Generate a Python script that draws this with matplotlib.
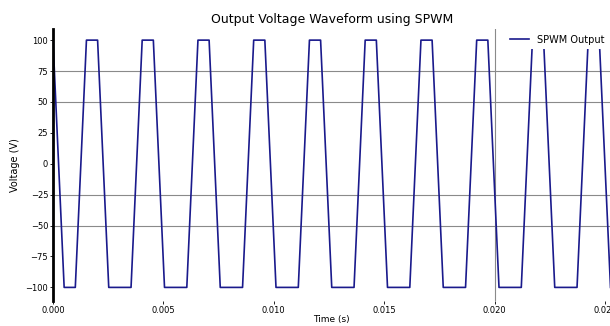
import matplotlib
matplotlib.use("Agg")
import matplotlib.pyplot as plt

# sample times (s) and output voltage (V)
time_s = [0.0, 0.000505, 0.001010, 0.001515, 0.002020, 0.002525, 0.003030, 0.003535,
          0.004040, 0.004545, 0.005051, 0.005556, 0.006061, 0.006566, 0.007071, 0.007576,
          0.008081, 0.008586, 0.009091, 0.009596, 0.010101, 0.010606, 0.011111, 0.011616,
          0.012121, 0.012626, 0.013131, 0.013636, 0.014141, 0.014646, 0.015152, 0.015657,
          0.016162, 0.016667, 0.017172, 0.017677, 0.018182, 0.018687, 0.019192, 0.019697,
          0.020202, 0.020707, 0.021212, 0.021717, 0.022222, 0.022727, 0.023232, 0.023737,
          0.024242, 0.024747, 0.025253]
voltage = [100, -100, -100, 100, 100, -100, -100, -100, 100, 100,
           -100, -100, -100, 100, 100, -100, -100, -100, 100, 100,
           -100, -100, -100, 100, 100, -100, -100, -100, 100, 100,
           -100, -100, -100, 100, 100, -100, -100, -100, 100, 100,
           -100, -100, -100, 100, 100, -100, -100, -100, 100, 100,
           -100]

x_ticks = [0.0, 0.005, 0.010, 0.015, 0.020, 0.025]
y_ticks = [-100, -75, -50, -25, 0, 25, 50, 75, 100]

fig = plt.figure(figsize=(6.1, 3.26), dpi=100)
ax = fig.add_axes([53 / 610, 25 / 326, 557.5 / 610, 272 / 326])

ax.plot(time_s, voltage, color="#1a1a8c", linewidth=1.2, label="SPWM Output")

ax.set_xlim(time_s[0], time_s[-1])
ax.set_ylim(-111, 109)
ax.set_xticks(x_ticks)
ax.set_yticks(y_ticks)
ax.tick_params(labelsize=6, length=2, width=0.6, pad=1.5)

# only part of the grid shows in the picture
ax.grid(True, color="#8a8a8a", linewidth=0.8)
for i, line in enumerate(ax.yaxis.get_gridlines()):
    line.set_visible(y_ticks[i] in (75, 50, -25, -50))
for i, line in enumerate(ax.xaxis.get_gridlines()):
    line.set_visible(x_ticks[i] == 0.020)

for side in ["top", "right", "bottom"]:
    ax.spines[side].set_visible(False)
ax.spines["left"].set_linewidth(2)

ax.set_title("Output Voltage Waveform using SPWM", fontsize=9, pad=4)
ax.set_xlabel("Time (s)", fontsize=6.5, labelpad=0)
ax.set_ylabel("Voltage (V)", fontsize=7, labelpad=4)
ax.legend(loc="upper right", fontsize=7, frameon=True, edgecolor="none",
          framealpha=1, borderaxespad=0.2)

fig.savefig("out.png", dpi=100)
